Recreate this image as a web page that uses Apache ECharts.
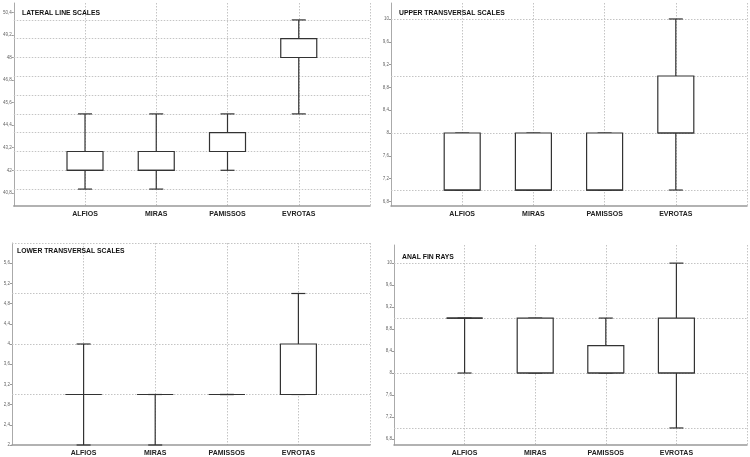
<!DOCTYPE html>
<html>
<head>
<meta charset="utf-8">
<script src="https://cdn.jsdelivr.net/npm/echarts@6/dist/echarts.min.js"></script>
<style>
html,body{margin:0;padding:0;background:#fff;}
#chart{width:750px;height:457px;}
</style>
</head>
<body>
<div id="chart"></div>
<script>
// ---- data ----
const categories = ['', 'ALFIOS', 'MIRAS', 'PAMISSOS', 'EVROTAS', ''];
const panelTitles = ['LATERAL LINE SCALES', 'UPPER TRANSVERSAL SCALES', 'LOWER TRANSVERSAL SCALES', 'ANAL FIN RAYS'];
// each entry: [min, q1, median, q3, max] for ALFIOS, MIRAS, PAMISSOS, EVROTAS
const lateralLine = [[41, 42, 42, 43, 45], [41, 42, 42, 43, 45], [42, 43, 43, 44, 45], [45, 48, 48, 49, 50]];
const upperTransversal = [[7, 7, 7, 8, 8], [7, 7, 7, 8, 8], [7, 7, 7, 8, 8], [7, 8, 8, 9, 10]];
const lowerTransversal = [[2, 3, 3, 3, 4], [2, 3, 3, 3, 3], [3, 3, 3, 3, 3], [3, 3, 3, 4, 5]];
const analFinRays = [[8, 9, 9, 9, 9], [8, 8, 8, 9, 9], [8, 8, 8, 8.5, 9], [7, 8, 8, 9, 10]];
// tick labels
const lateralTicks = [40.8, 42, 43.2, 44.4, 45.6, 46.8, 48, 49.2, 50.4];
const upperTicks = [6.8, 7.2, 7.6, 8, 8.4, 8.8, 9.2, 9.6, 10];
const lowerTicks = [2, 2.4, 2.8, 3.2, 3.6, 4, 4.4, 4.8, 5.2, 5.6];
const analTicks = [6.8, 7.2, 7.6, 8, 8.4, 8.8, 9.2, 9.6, 10];
// horizontal reference grid lines
const lateralGrid = [41, 42, 43, 44, 45, 46, 47, 48, 49, 50];
const upperGrid = [7, 8, 9, 10];
const lowerGrid = [3, 4, 5, 6];
const analGrid = [7, 8, 9, 10];
// axis ranges
const lateralRange = [40.1, 50.9];
const upperRange = [6.72, 10.28];
const lowerRange = [2, 6];
const analRange = [6.69, 10.33];

const panels = [
  {data: lateralLine, ticks: lateralTicks, gridVals: lateralGrid, range: lateralRange,
   grid: {left: 12, top: 3, width: 358, height: 203}, title: {left: 22, top: 10}},
  {data: upperTransversal, ticks: upperTicks, gridVals: upperGrid, range: upperRange,
   grid: {left: 391, top: 3, width: 358, height: 203}, title: {left: 399, top: 10}},
  {data: lowerTransversal, ticks: lowerTicks, gridVals: lowerGrid, range: lowerRange,
   grid: {left: 12, top: 243, width: 358, height: 204}, title: {left: 17, top: 248}},
  {data: analFinRays, ticks: analTicks, gridVals: analGrid, range: analRange,
   grid: {left: 394, top: 245, width: 355, height: 201}, title: {left: 402, top: 254}}
];

const fmt = v => String(v).replace('.', ',');
const LINE = '#333';

function renderBox(params, api) {
  const x = api.value(0);
  const mn = api.coord([x, api.value(1)]);
  const q1 = api.coord([x, api.value(2)]);
  const md = api.coord([x, api.value(3)]);
  const q3 = api.coord([x, api.value(4)]);
  const mx = api.coord([x, api.value(5)]);
  const cx = mn[0];
  const bw = 36, cw = 14;
  const st = {stroke: LINE, lineWidth: 1.2, fill: null};
  const line = (x1, y1, x2, y2) => ({type: 'line', shape: {x1, y1, x2, y2}, style: st});
  return {
    type: 'group',
    children: [
      line(cx, mn[1], cx, q1[1]),
      line(cx, q3[1], cx, mx[1]),
      line(cx - cw / 2, mn[1], cx + cw / 2, mn[1]),
      line(cx - cw / 2, mx[1], cx + cw / 2, mx[1]),
      {type: 'rect', shape: {x: cx - bw / 2, y: q3[1], width: bw, height: q1[1] - q3[1]},
       style: {stroke: LINE, lineWidth: 1.2, fill: '#fff'}},
      line(cx - bw / 2, md[1], cx + bw / 2, md[1])
    ]
  };
}

const option = {
  animation: false,
  backgroundColor: '#fff',
  title: panels.map((p, i) => ({
    text: panelTitles[i], left: p.title.left, top: p.title.top, padding: 0,
    textStyle: {fontFamily: 'Liberation Sans', fontSize: 6.8, fontWeight: 'bold', color: '#111'}
  })),
  grid: panels.map(p => Object.assign({containLabel: false}, p.grid)),
  xAxis: panels.map((p, i) => ({
    type: 'category', gridIndex: i, data: categories, boundaryGap: false,
    axisLine: {lineStyle: {color: '#999', width: 1.5}},
    axisTick: {show: false},
    axisLabel: {fontFamily: 'Liberation Sans', fontSize: 7, fontWeight: 'bold', color: '#222', margin: 5, interval: 0},
    splitLine: {show: true, lineStyle: {color: '#c4c4c4', type: [1.5, 1.5], width: 1}}
  })),
  yAxis: panels.map((p, i) => ({
    type: 'value', gridIndex: i, min: p.range[0], max: p.range[1],
    axisLine: {show: true, lineStyle: {color: '#aaa', width: 1}},
    axisTick: {show: true, length: 2, customValues: p.ticks, lineStyle: {color: '#999'}},
    axisLabel: {customValues: p.ticks, formatter: fmt, fontFamily: 'Liberation Sans', fontSize: 4.5, color: '#666', margin: 2},
    splitLine: {show: false}
  })),
  series: panels.map((p, i) => ({
    type: 'custom', xAxisIndex: i, yAxisIndex: i,
    renderItem: renderBox,
    encode: {x: 0, y: [1, 2, 3, 4, 5]},
    data: p.data.map((d, k) => [k + 1].concat(d)),
    z: 3,
    markLine: {
      silent: true, symbol: 'none', label: {show: false}, z: 1,
      lineStyle: {color: '#c4c4c4', type: [1.5, 1.5], width: 1},
      data: p.gridVals.map(v => ({yAxis: v}))
    }
  }))
};

const chart = echarts.init(document.getElementById('chart'), null, {renderer: 'canvas'});
chart.setOption(option);
</script>
</body>
</html>
